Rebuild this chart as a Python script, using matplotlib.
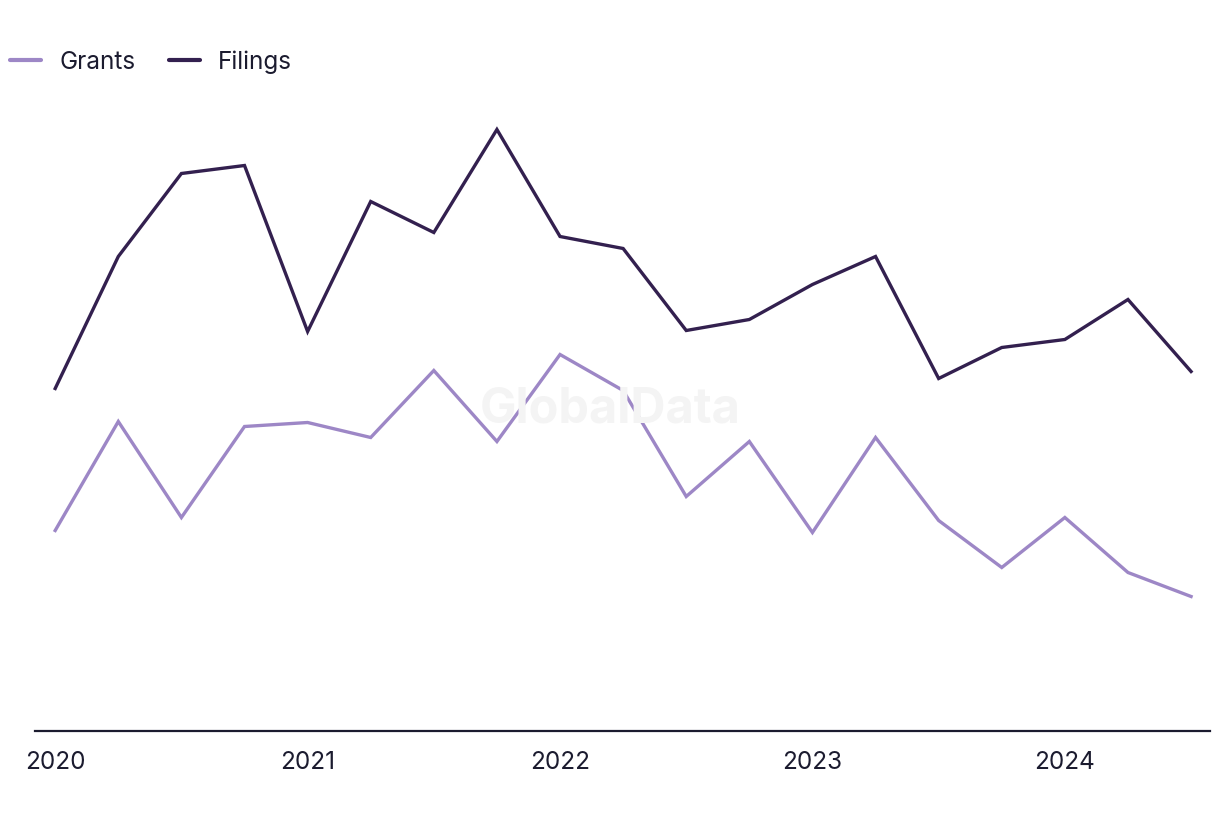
import matplotlib.pyplot as plt
import numpy as np

plt.rcParams['font.family'] = ['Inter', 'DejaVu Sans']

# Quarterly values, 2020 Q1 .. 2024 Q3 (no y scale shown, relative units)
quarters = np.arange(19)
year_ticks = [0, 4, 8, 12, 16]
year_labels = ["2020", "2021", "2022", "2023", "2024"]

filings = [34.2, 47.4, 55.7, 56.5, 39.9, 52.9, 49.8, 60.1, 49.4, 48.2,
           40.0, 41.1, 44.6, 47.4, 35.2, 38.3, 39.1, 43.1, 35.9]
grants = [20.0, 30.9, 21.3, 30.4, 30.8, 29.3, 36.0, 28.9, 37.6, 34.0,
          23.4, 28.9, 19.8, 29.3, 21.0, 16.3, 21.3, 15.8, 13.4]

text_color = "#1b1b2f"

fig = plt.figure(figsize=(12.2, 8.2), dpi=100)
ax = fig.add_axes([35 / 1220, 1 - 731.5 / 820, 1175 / 1220, 630 / 820])

ax.plot(quarters, grants, color="#9d87c6", lw=2.4, label="Grants",
        solid_joinstyle="miter")
ax.plot(quarters, filings, color="#33204f", lw=2.4, label="Filings",
        solid_joinstyle="miter")

ax.set_xlim(-0.32, 18.3)
ax.set_ylim(0, 63)

for s in ["top", "right", "left"]:
    ax.spines[s].set_visible(False)
ax.spines["bottom"].set_color(text_color)
ax.spines["bottom"].set_linewidth(1.6)
ax.set_yticks([])
ax.set_xticks(year_ticks)
ax.set_xticklabels(year_labels, fontsize=17.5, color=text_color)
ax.tick_params(axis="x", length=0, pad=14)

# watermark
fig.text(0.5, 1 - 410 / 820, "GlobalData", fontsize=35, fontweight="bold",
         color="#f4f4f4", ha="center", va="center", zorder=0)

leg = fig.legend(loc="upper left", bbox_to_anchor=(-0.0095, 0.9645), ncol=2,
                 frameon=False, fontsize=17.5, labelcolor=text_color,
                 handlelength=1.28, columnspacing=1.36, handletextpad=0.74)
for h in leg.legend_handles:
    h.set_linewidth(3)
    h.set_solid_capstyle("round")

fig.savefig("out.png", dpi=100)
